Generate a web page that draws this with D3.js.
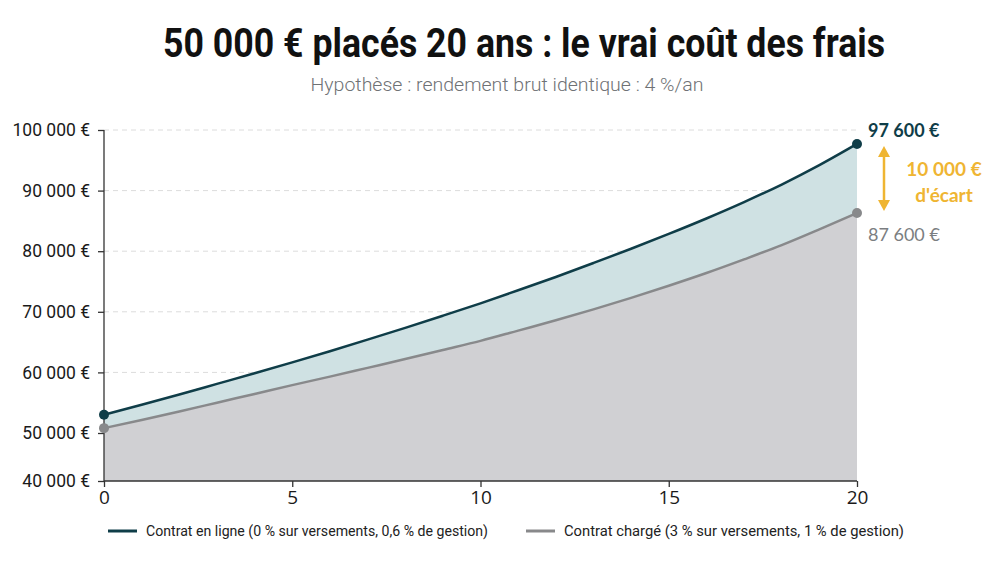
<!DOCTYPE html>
<html>
<head>
<meta charset="utf-8">
<script src="https://cdn.jsdelivr.net/npm/d3@7"></script>
<style>
  body { margin: 0; background: #fff; }
  svg { display: block; }
</style>
</head>
<body>
<svg id="chart" width="1000" height="563"></svg>
<script>
// years 0..20, values
var years = [0,1,2,3,4,5,6,7,8,9,10,11,12,13,14,15,16,17,18,19,20];
var enLigne = [53000,54650,56350,58100,59850,61650,63500,65400,67350,69350,71400,
               73550,75750,78050,80400,82850,85400,88100,91000,94200,97700];
var charge = [50800,52150,53550,55000,56450,57900,59300,60750,62200,63700,65200,
              66900,68600,70400,72300,74300,76400,78650,81000,83600,86300];
var yTicks = [40000,50000,60000,70000,80000,90000,100000];
var xTicks = [0,5,10,15,20];
var legendLabels = ['Contrat en ligne (0 % sur versements, 0,6 % de gestion)',
                    'Contrat chargé (3 % sur versements, 1 % de gestion)'];
var endLabels = ['97 600 €', '87 600 €'];
var gapLabels = ['10 000 €', "d'écart"];

var dark = '#0f3d48', grey = '#88898b', gold = '#efb532';
var svg = d3.select('#chart');
var font = 'Lato, "Noto Sans", sans-serif';

var x = d3.scaleLinear().domain([0, 20]).range([104, 857]);
// the reference axis is compressed below 50 000
var y = d3.scaleLinear().domain([40000, 50000, 100000]).range([481, 433, 130]);

var fmt = function(v) { return d3.format(',')(v).replace(/,/g, ' ') + ' €'; };

// title
svg.append('text').attr('x', 524).attr('y', 57).attr('text-anchor', 'middle')
   .attr('font-family', 'Roboto, sans-serif').attr('font-weight', 700).attr('font-size', 40)
   .attr('textLength', 722).attr('lengthAdjust', 'spacingAndGlyphs')
   .attr('fill', '#111').text('50 000 € placés 20 ans : le vrai coût des frais');
svg.append('text').attr('x', 507).attr('y', 91).attr('text-anchor', 'middle')
   .attr('font-family', 'Roboto, sans-serif').attr('font-weight', 300).attr('font-size', 19)
   .attr('textLength', 393).attr('lengthAdjust', 'spacingAndGlyphs')
   .attr('fill', '#6f7275').text('Hypothèse : rendement brut identique : 4 %/an');

// grid
svg.append('g').selectAll('line').data(yTicks.filter(d => d > 40000)).enter().append('line')
   .attr('x1', 104).attr('x2', 857).attr('y1', d => y(d)).attr('y2', d => y(d))
   .attr('stroke', '#dcdcdc').attr('stroke-dasharray', '5,4');

var rows = years.map((t, i) => ({ t: t, a: enLigne[i], b: charge[i] }));
var curve = d3.curveMonotoneX;

svg.append('path').datum(rows)
   .attr('d', d3.area().x(d => x(d.t)).y0(d => y(d.b)).y1(d => y(d.a)).curve(curve))
   .attr('fill', '#cfe1e3');
svg.append('path').datum(rows)
   .attr('d', d3.area().x(d => x(d.t)).y0(y(40000)).y1(d => y(d.b)).curve(curve))
   .attr('fill', '#d0d0d3');

svg.append('path').datum(rows)
   .attr('d', d3.line().x(d => x(d.t)).y(d => y(d.b)).curve(curve))
   .attr('fill', 'none').attr('stroke', grey).attr('stroke-width', 2.5);
svg.append('path').datum(rows)
   .attr('d', d3.line().x(d => x(d.t)).y(d => y(d.a)).curve(curve))
   .attr('fill', 'none').attr('stroke', dark).attr('stroke-width', 2.5);

// axes
var yAxis = svg.append('g').attr('transform', 'translate(104,0)')
   .call(d3.axisLeft(y).tickValues(yTicks).tickFormat(fmt).tickSize(6).tickPadding(8));
var xAxis = svg.append('g').attr('transform', 'translate(0,481)')
   .call(d3.axisBottom(x).tickValues(xTicks).tickSize(6).tickPadding(4));
yAxis.selectAll('path, line').attr('stroke', '#333').attr('stroke-width', 1.3);
xAxis.selectAll('path, line').attr('stroke', '#333').attr('stroke-width', 1.3);
yAxis.selectAll('text').attr('font-family', 'Roboto, sans-serif').attr('font-size', 17.5).attr('fill', '#1a1a1a');
xAxis.selectAll('text').attr('font-family', '"Open Sans", sans-serif').attr('font-size', 19).attr('fill', '#1a1a1a');
yAxis.select('.domain').attr('d', 'M-0,481V130');
xAxis.select('.domain').attr('d', 'M104,0H857');

// end points
var ends = [rows[0], rows[rows.length - 1]];
svg.append('g').selectAll('circle').data(ends).enter().append('circle')
   .attr('cx', d => x(d.t)).attr('cy', d => y(d.b)).attr('r', 5).attr('fill', grey);
svg.append('g').selectAll('circle').data(ends).enter().append('circle')
   .attr('cx', d => x(d.t)).attr('cy', d => y(d.a)).attr('r', 5).attr('fill', dark);

// end labels
var last = rows[rows.length - 1];
svg.append('text').attr('x', 868).attr('y', y(last.a) - 7).attr('font-family', font)
   .attr('font-weight', 700).attr('font-size', 18).attr('fill', dark).text(endLabels[0]);
svg.append('text').attr('x', 868).attr('y', y(last.b) + 28).attr('font-family', font)
   .attr('font-weight', 400).attr('font-size', 18).attr('fill', '#7b7e81').text(endLabels[1]);

// gap arrow
var ax = 884, ay1 = y(last.a) + 2, ay2 = y(last.b) - 2;
svg.append('line').attr('x1', ax).attr('x2', ax).attr('y1', ay1 + 6).attr('y2', ay2 - 6)
   .attr('stroke', gold).attr('stroke-width', 2.5);
svg.append('path').attr('d', `M${ax},${ay1}l-6,11h12z`).attr('fill', gold);
svg.append('path').attr('d', `M${ax},${ay2}l-6,-11h12z`).attr('fill', gold);
svg.append('g').selectAll('text').data(gapLabels).enter().append('text')
   .attr('x', 944).attr('y', (d, i) => 176 + i * 26).attr('text-anchor', 'middle')
   .attr('font-family', font).attr('font-weight', 700).attr('font-size', 19)
   .attr('fill', gold).text(d => d);

// legend
var legX = [108, 526], legColors = [dark, grey], legLen = [342, 340];
var leg = svg.append('g').selectAll('g').data(legendLabels).enter().append('g')
   .attr('transform', (d, i) => `translate(${legX[i]},531)`);
leg.append('line').attr('x1', 0).attr('x2', 29).attr('stroke', (d, i) => legColors[i]).attr('stroke-width', 3);
leg.append('text').attr('x', 38).attr('y', 5).attr('font-family', 'Roboto, sans-serif')
   .attr('font-size', 15).attr('textLength', (d, i) => legLen[i]).attr('lengthAdjust', 'spacingAndGlyphs')
   .attr('fill', '#222').text(d => d);
</script>
</body>
</html>
